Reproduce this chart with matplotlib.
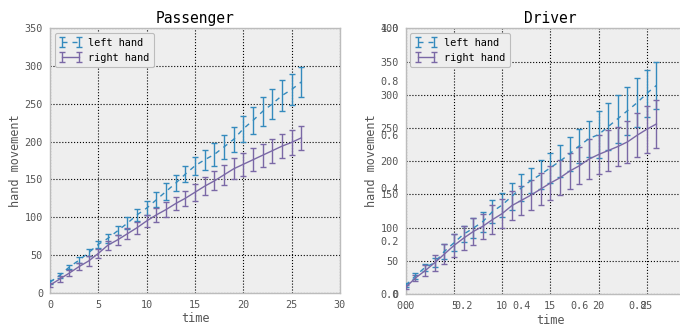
import matplotlib
matplotlib.use("Agg")
import matplotlib.pyplot as plt
import numpy as np

time = list(range(27))

pass_left = [14, 23, 34, 43, 53, 64, 72, 82, 92, 103, 112, 123, 134, 145, 157, 168,
             176, 183, 193, 203, 217, 228, 240, 250, 261, 269, 279]
pass_left_err = [3, 3, 3, 4, 5, 5, 6, 6, 8, 8, 9, 10, 11, 11, 11, 12, 13, 15, 16, 17,
                 17, 18, 19, 20, 20, 21, 20]
pass_right = [10, 18, 26, 34.5, 42, 52, 63, 70, 78, 86, 95, 103, 110, 118, 125, 133,
              141, 148, 156, 164, 170, 176, 182, 188, 194, 199, 205]
pass_right_err = [3, 4, 4, 4.5, 6, 6.5, 6, 6.5, 7, 8, 8, 9.5, 10, 9, 10, 11.5, 12,
                  12.5, 13, 14, 15, 15, 15.5, 16, 15.5, 17, 16]

drv_left = [13, 27, 40, 47, 64, 77, 90, 99, 109, 124, 134, 147, 160, 171, 180, 190,
            200, 211, 223, 234, 240, 252, 264, 276, 288, 302, 314]
drv_left_err = [3, 4, 5, 7, 11, 13, 12, 15, 15, 17, 18, 20, 20, 19, 22, 23, 24, 26,
                26, 27, 35, 35, 36, 36, 37, 35, 36]
drv_right = [10, 24, 35, 47, 60, 73, 84, 94, 102, 112, 121, 133, 141, 149, 158, 167,
             175, 185, 193, 203, 210, 216, 222, 229, 239, 248, 256]
drv_right_err = [3, 4, 8, 12, 15, 17, 18, 20, 19, 22, 22, 22, 22, 23, 24, 25, 26, 27,
                 28, 30, 29, 31, 30, 32, 33, 35, 36]

titles = ["Passenger", "Driver"]
legend_labels = ["left hand", "right hand"]
pass_xticks = [0, 5, 10, 15, 20, 25, 30]
drv_xticks = [0, 5, 10, 15, 20, 25]
under_ticks_x = [0.0, 0.2, 0.4, 0.6, 0.8]
under_ticks_y = [0.0, 0.2, 0.4, 0.6, 0.8, 1.0]

BLUE = "#348ABD"
PURPLE = "#7A68A6"
TICKC = "#555555"
FONT = "DejaVu Sans Mono"

plt.rcParams["font.family"] = [FONT, "DejaVu Sans"]

W, H = 680, 329
fig = plt.figure(figsize=(W / 100, H / 100), dpi=100)


def rect(x0, x1, ytop, ybot):
    return [x0 / W, (H - ybot) / H, (x1 - x0) / W, (ybot - ytop) / H]


def style_axes(ax):
    ax.set_facecolor("#eeeeee")
    for s in ax.spines.values():
        s.set_color("#bcbcbc")
        s.set_linewidth(1.0)
    ax.grid(True, color="black", linestyle=":", linewidth=0.8)
    ax.set_axisbelow(True)
    ax.tick_params(length=0, labelsize=7.3, labelcolor=TICKC, pad=5)


def draw(ax, left, left_err, right, right_err, ylim, yticks, xticks, title):
    style_axes(ax)
    ax.errorbar(time, left, yerr=left_err, color=BLUE, linestyle=(0, (3.6, 3.6)),
                linewidth=1.0, elinewidth=1.0, capsize=2.3, capthick=1.0,
                label=legend_labels[0], zorder=3)
    ax.errorbar(time, right, yerr=right_err, color=PURPLE, linestyle="-", linewidth=1.0,
                elinewidth=1.0, capsize=2.3, capthick=1.0, label=legend_labels[1],
                zorder=3)
    ax.set_xlim(0, 30)
    ax.set_xticks(xticks)
    ax.set_ylim(*ylim)
    ax.set_yticks(yticks)
    ax.set_title(title, fontsize=10.5, pad=4, color="black")
    ax.set_xlabel("time", fontsize=8.6, color=TICKC, labelpad=2)
    ax.set_ylabel("hand movement", fontsize=8.6, color=TICKC, labelpad=2)
    leg = ax.legend(loc="upper left", fontsize=7.4, handlelength=2.2, numpoints=2,
                    borderpad=0.45, labelspacing=0.5, handletextpad=0.6,
                    fancybox=True, framealpha=1.0, borderaxespad=0.45)
    leg.get_frame().set_facecolor("#eeeeee")
    leg.get_frame().set_edgecolor("#bcbcbc")
    leg.get_frame().set_linewidth(0.8)


ax1 = fig.add_axes(rect(50, 340, 28.3, 292.7))
draw(ax1, pass_left, pass_left_err, pass_right, pass_right_err, (0, 350),
     range(0, 351, 50), pass_xticks, titles[0])

r2 = rect(405.7, 695, 28.3, 294)
ax_under = fig.add_axes(r2, label="under")
ax_under.set_xlim(0, 1)
ax_under.set_ylim(0, 1)
ax_under.set_xticks(under_ticks_x)
ax_under.set_yticks(under_ticks_y)
ax_under.tick_params(length=0, labelsize=7.3, labelcolor=TICKC, pad=5)
for s in ax_under.spines.values():
    s.set_visible(False)

ax2 = fig.add_axes(r2, label="driver")
draw(ax2, drv_left, drv_left_err, drv_right, drv_right_err, (0, 400),
     range(0, 401, 50), drv_xticks, titles[1])

fig.savefig("out.png", dpi=100)
